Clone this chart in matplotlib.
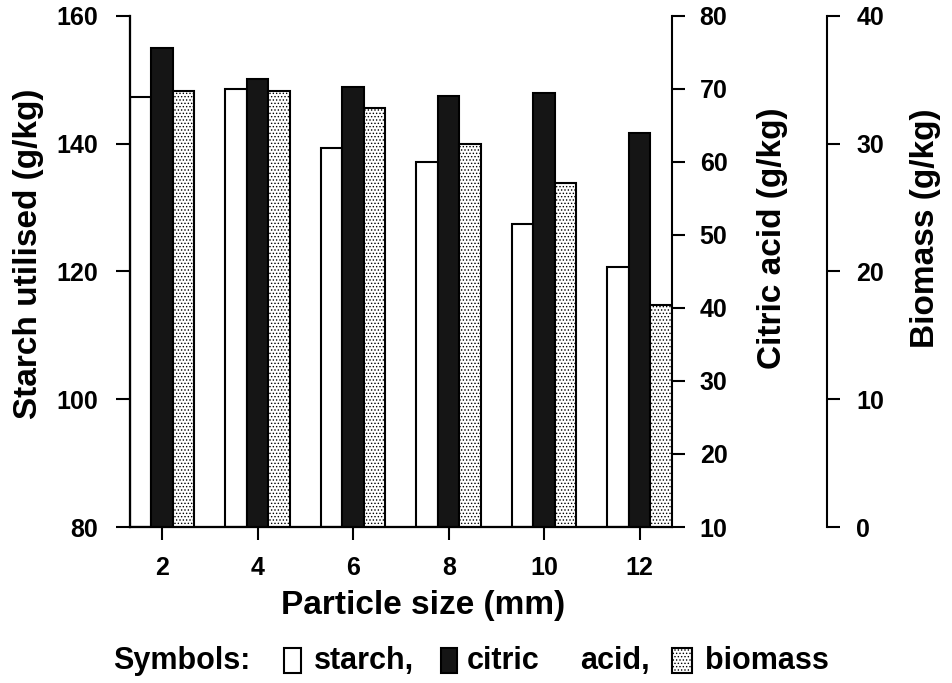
import numpy as np
import matplotlib
matplotlib.use("Agg")
import matplotlib.pyplot as plt
from matplotlib.patches import Rectangle

# data
size_mm = [2, 4, 6, 8, 10, 12]
starch = [147.3, 148.5, 139.4, 137.1, 127.4, 120.7]     # g/kg, left axis
citric = [75.6, 71.3, 70.3, 69.1, 69.4, 64.0]           # g/kg, middle axis
biomass = [34.1, 34.1, 32.8, 30.0, 26.9, 17.4]          # g/kg, right axis

starch_ticks = [80, 100, 120, 140, 160]
citric_ticks = [10, 20, 30, 40, 50, 60, 70, 80]
biomass_ticks = [0, 10, 20, 30, 40]

plt.rcParams['font.family'] = ['Liberation Sans', 'DejaVu Sans']
plt.rcParams['font.weight'] = 'bold'
plt.rcParams['axes.labelweight'] = 'bold'
plt.rcParams['font.size'] = 18
plt.rcParams['hatch.linewidth'] = 0.6
plt.rcParams['axes.linewidth'] = 1.5

W, H = 953, 683
fig = plt.figure(figsize=(W / 100, H / 100), dpi=100)
ax = fig.add_axes([0.1364, 0.2284, 0.5687, 0.7482])
ax2 = ax.twinx()
ax3 = ax.twinx()

x = np.array(size_mm, dtype=float)
w = 0.45
starch_style = dict(facecolor='white', edgecolor='black', linewidth=1.5)
citric_style = dict(facecolor='#151515', edgecolor='black', linewidth=1.5)
biomass_style = dict(facecolor='white', edgecolor='black', linewidth=1.5, hatch='.....')

ax.bar(x - w, np.array(starch) - 80, w, bottom=80, **starch_style)
ax2.bar(x, np.array(citric) - 10, w, bottom=10, **citric_style)
ax3.bar(x + w, biomass, w, bottom=0, **biomass_style)

ax.set_xlim(2 - 1.5 * w, 12 + 1.5 * w)
ax.set_ylim(80, 160)
ax2.set_ylim(10, 80)
ax3.set_ylim(0, 40)

ax.set_xticks(size_mm)
ax.set_yticks(starch_ticks)
ax2.set_yticks(citric_ticks)
ax3.set_yticks(biomass_ticks)

for a in (ax, ax2, ax3):
    a.spines['top'].set_visible(False)
ax.spines['right'].set_visible(False)
ax3.spines['right'].set_position(('axes', 1.286))

ax.tick_params(axis='x', length=9, width=1.5, pad=12, labelsize=18)
ax.tick_params(axis='y', length=10, width=1.5, pad=13, labelsize=18)
ax2.tick_params(axis='y', length=9, width=1.5, pad=11, labelsize=18)
ax3.tick_params(axis='y', length=9, width=1.5, pad=12, labelsize=18)

ax.set_ylabel('Starch utilised (g/kg)', fontsize=24)
ax.yaxis.set_label_coords(-0.188, 0.535)
ax2.set_ylabel('Citric acid (g/kg)', fontsize=24)
ax2.yaxis.set_label_coords(1.186, 0.565)
ax3.set_ylabel('Biomass (g/kg)', fontsize=24)
ax3.yaxis.set_label_coords(1.467, 0.585)
for a in (ax, ax2, ax3):
    a.yaxis.label.set(ha='center', va='center')

ax.set_xlabel('Particle size (mm)', fontsize=24)
ax.xaxis.set_label_coords(0.541, -0.153)
ax.xaxis.label.set(va='center')

# symbol key line under the chart
ky = 1 - 661 / H
for word, px in [('Symbols:', 113), ('starch,', 314), ('citric', 467),
                 ('acid,', 580), ('biomass', 705)]:
    fig.text(px / W, ky, word, fontsize=22, va='center', ha='left')
for px, pw, style in [(284, 17, starch_style), (441, 16, citric_style),
                      (672, 20, biomass_style)]:
    fig.add_artist(Rectangle((px / W, 1 - 673 / H), pw / W, 25 / H,
                             transform=fig.transFigure, **style))

plt.savefig('out.png', dpi=100)
